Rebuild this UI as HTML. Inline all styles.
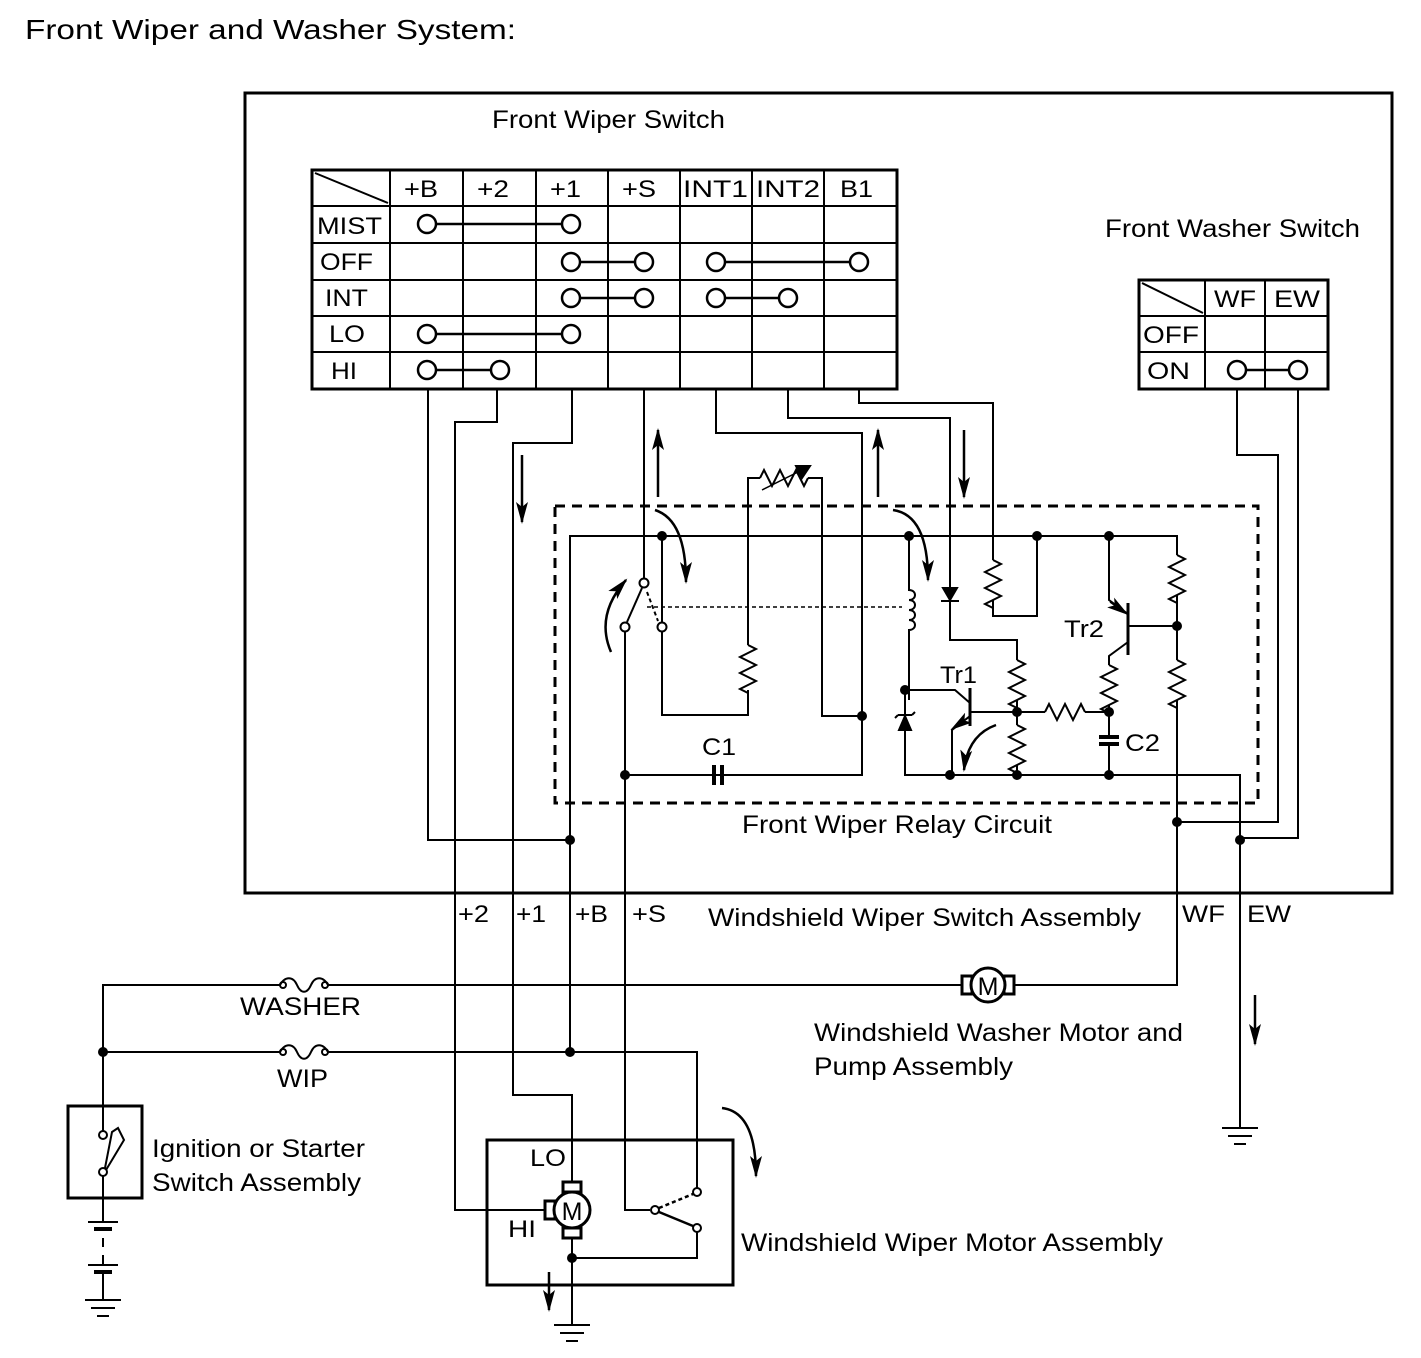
<!DOCTYPE html>
<html><head><meta charset="utf-8"><style>
html,body{margin:0;padding:0;background:#fff}
svg{display:block}
text{font-family:"Liberation Sans",Arial,sans-serif;fill:#000}
</style></head><body>
<svg width="1421" height="1358" viewBox="0 0 1421 1358" xmlns="http://www.w3.org/2000/svg">
<defs>
<marker id="ah" markerWidth="22" markerHeight="12" refX="20" refY="6" orient="auto" markerUnits="userSpaceOnUse">
<path d="M0,0 L22,6 L0,12 L5,6 Z" fill="#000"/></marker>
</defs>
<g fill="none" stroke="#000" stroke-width="2">
<rect x="245" y="93" width="1147" height="800" stroke-width="3"/>
<g stroke="none">
<text x="25" y="39" font-size="28" textLength="491" lengthAdjust="spacingAndGlyphs">Front Wiper and Washer System:</text>
<text x="492" y="128" font-size="25" textLength="233" lengthAdjust="spacingAndGlyphs">Front Wiper Switch</text>
<text x="1105" y="237" font-size="25" textLength="255" lengthAdjust="spacingAndGlyphs">Front Washer Switch</text>
</g>

<!-- switch table -->
<rect x="312" y="170" width="585" height="219" stroke-width="3"/>
<path d="M390 170V389M463 170V389M536 170V389M608 170V389M680 170V389M752 170V389M824 170V389"/>
<path d="M312 206H897M312 243H897M312 280H897M312 316H897M312 352H897"/>
<path d="M315 173L388 203"/>
<g font-size="24" stroke="none">
<text x="404" y="197" textLength="34" lengthAdjust="spacingAndGlyphs">+B</text><text x="477" y="197" textLength="32" lengthAdjust="spacingAndGlyphs">+2</text><text x="550" y="197" textLength="31" lengthAdjust="spacingAndGlyphs">+1</text><text x="622" y="197" textLength="34" lengthAdjust="spacingAndGlyphs">+S</text>
<text x="683" y="197" textLength="65" lengthAdjust="spacingAndGlyphs">INT1</text><text x="756" y="197" textLength="64" lengthAdjust="spacingAndGlyphs">INT2</text><text x="840" y="197" textLength="33" lengthAdjust="spacingAndGlyphs">B1</text>
<text x="317" y="234" textLength="65" lengthAdjust="spacingAndGlyphs">MIST</text><text x="320" y="270" textLength="53" lengthAdjust="spacingAndGlyphs">OFF</text><text x="325" y="306" textLength="43" lengthAdjust="spacingAndGlyphs">INT</text><text x="329" y="342" textLength="36" lengthAdjust="spacingAndGlyphs">LO</text><text x="331" y="379" textLength="26" lengthAdjust="spacingAndGlyphs">HI</text>
</g>
<path d="M436 224H562M580 262H635M725 262H850M580 298H635M725 298H779M436 334H562M436 370H491" stroke-width="2.5"/>
<g stroke-width="2.5">
<circle cx="427" cy="224" r="9"/><circle cx="571" cy="224" r="9"/>
<circle cx="571" cy="262" r="9"/><circle cx="644" cy="262" r="9"/><circle cx="716" cy="262" r="9"/><circle cx="859" cy="262" r="9"/>
<circle cx="571" cy="298" r="9"/><circle cx="644" cy="298" r="9"/><circle cx="716" cy="298" r="9"/><circle cx="788" cy="298" r="9"/>
<circle cx="427" cy="334" r="9"/><circle cx="571" cy="334" r="9"/>
<circle cx="427" cy="370" r="9"/><circle cx="500" cy="370" r="9"/>
</g>

<!-- washer table -->
<rect x="1139" y="280" width="189" height="109" stroke-width="3"/>
<path d="M1205 280V389M1265 280V389M1139 316H1328M1139 352H1328M1142 283L1203 313"/>
<g font-size="24" stroke="none"><text x="1214" y="307" textLength="42" lengthAdjust="spacingAndGlyphs">WF</text><text x="1274" y="307" textLength="46" lengthAdjust="spacingAndGlyphs">EW</text><text x="1143" y="343" textLength="56" lengthAdjust="spacingAndGlyphs">OFF</text><text x="1147" y="379" textLength="43" lengthAdjust="spacingAndGlyphs">ON</text></g>
<path d="M1246 370H1289" stroke-width="2.5"/>
<circle cx="1237" cy="370" r="9" stroke-width="2.5"/><circle cx="1298" cy="370" r="9" stroke-width="2.5"/>

<!-- dashed relay box -->
<rect x="555" y="506" width="703" height="297" stroke-width="3" stroke-dasharray="10,7"/>
<text x="742" y="833" font-size="25" stroke="none" textLength="310" lengthAdjust="spacingAndGlyphs">Front Wiper Relay Circuit</text>

<!-- wires from table -->
<path d="M428 389V840H570"/>
<path d="M497 389V422H455V1210H545"/>
<path d="M572 389V443H513V1095H572V1182"/>
<path d="M644 389V578"/>
<path d="M716 389V433H862V775H625"/>
<path d="M788 389V418H950V640H1017V660"/>
<path d="M859 389V403H993V560"/>
<path d="M993 600V616H1037V536"/>

<!-- relay rail -->
<path d="M570 1052V536H1177V555"/>
<path d="M1177 595V660M1177 700V985H1017"/>
<!-- switch -->
<path d="M625 632V1210H650"/>
<circle cx="644" cy="583" r="4.5"/><circle cx="625" cy="627" r="4.5" /><circle cx="662" cy="627" r="4.5"/>
<path d="M627 622L642 588"/>
<path d="M647 592L658 621" stroke-dasharray="4,3"/>
<path d="M647 607H902" stroke-dasharray="4,3" stroke-width="1.5"/>
<path d="M662 536V622M662 632V715H748V690"/>
<path d="M748 645V478H760M808 478H822V716H862"/>
<!-- variable resistor -->
<path d="M760 478l4 -8l8 16l8 -16l8 16l8 -16l8 16l4 -8"/>
<path d="M762 490L810 466" stroke-width="1.5"/>
<path d="M810 466L796 466L802 478Z" fill="#000"/>
<!-- C1 -->
<path d="M714 765V785M722 765V785" stroke-width="4"/>
<text x="702" y="755" font-size="24" stroke="none" textLength="34" lengthAdjust="spacingAndGlyphs">C1</text>
<!-- coil -->
<path d="M909 536V590 c8 0 8 10 0 10 c8 0 8 10 0 10 c8 0 8 10 0 10 c8 0 8 10 0 10V700"/>
<!-- zener -->
<path d="M905 730V775H1240V985"/>
<path d="M899 730L911 730L905 716Z" fill="#000"/>
<path d="M898 715H912M898 715l-3 3M912 715l3 -3"/>
<path d="M905 690V716"/>
<!-- diode -->
<path d="M943 588H957L950 600Z" fill="#000"/><path d="M941 601H959"/>
<!-- tr1 -->
<path d="M905 690H955L970 703"/>
<path d="M970 688V726" stroke-width="3"/>
<path d="M970 712H1017"/>
<path d="M970 716L952 730V775"/>
<path d="M968 718L952 729" marker-end="url(#ah)" stroke-width="1.5"/>
<text x="940" y="683" font-size="24" stroke="none" textLength="37" lengthAdjust="spacingAndGlyphs">Tr1</text>
<path d="M1017 700V725M1017 765V775M1017 712H1045M1085 712H1109"/>
<!-- tr2 -->
<path d="M1109 536V600L1128 614"/>
<path d="M1128 603V655" stroke-width="3"/>
<path d="M1128 626H1177"/>
<path d="M1128 642L1109 656V665M1109 705V735M1109 745V775"/>
<path d="M1110 602L1127 614" marker-end="url(#ah)" stroke-width="1.5"/>
<text x="1064" y="637" font-size="24" stroke="none" textLength="40" lengthAdjust="spacingAndGlyphs">Tr2</text>
<path d="M1099 737H1119M1099 744H1119" stroke-width="4"/>
<text x="1125" y="751" font-size="24" stroke="none" textLength="35" lengthAdjust="spacingAndGlyphs">C2</text>
<!-- resistors -->
<path d="M748 645l8 4l-16 8l16 8l-16 8l16 8l-16 8l8 4"/>
<path d="M993 560l8 4l-16 8l16 8l-16 8l16 8l-16 8l8 4"/>
<path d="M1017 660l8 4l-16 8l16 8l-16 8l16 8l-16 8l8 4"/>
<path d="M1017 725l8 4l-16 8l16 8l-16 8l16 8l-16 8l8 4"/>
<path d="M1109 665l8 4l-16 8l16 8l-16 8l16 8l-16 8l8 4"/>
<path d="M1177 555l8 4l-16 8l16 8l-16 8l16 8l-16 8l8 4"/>
<path d="M1177 660l8 4l-16 8l16 8l-16 8l16 8l-16 8l8 4"/>
<path d="M1045 712l4 -8l8 16l8 -16l8 16l8 -16l4 8"/>

<!-- washer switch wires -->
<path d="M1237 389V455H1278V822H1177"/>
<path d="M1298 389V838H1240"/>
<path d="M1240 985V1128"/>

<!-- dots -->
<g fill="#000" stroke="none">
<circle cx="570" cy="840" r="5"/><circle cx="662" cy="536" r="5"/><circle cx="909" cy="536" r="5"/><circle cx="1037" cy="536" r="5"/><circle cx="1109" cy="536" r="5"/>
<circle cx="862" cy="716" r="5"/><circle cx="625" cy="775" r="5"/><circle cx="905" cy="690" r="5"/><circle cx="950" cy="775" r="5"/>
<circle cx="1017" cy="712" r="5"/><circle cx="1017" cy="775" r="5"/><circle cx="1109" cy="712" r="5"/><circle cx="1109" cy="775" r="5"/>
<circle cx="1177" cy="626" r="5"/><circle cx="1177" cy="822" r="5"/><circle cx="1240" cy="840" r="5"/>
<circle cx="103" cy="1052" r="5"/><circle cx="570" cy="1052" r="5"/><circle cx="572" cy="1258" r="5"/>
</g>

<!-- arrows -->
<g stroke-width="2.5">
<path d="M658 497V430" marker-end="url(#ah)"/>
<path d="M878 497V430" marker-end="url(#ah)"/>
<path d="M964 430V497" marker-end="url(#ah)"/>
<path d="M522 455V522" marker-end="url(#ah)"/>
<path d="M655 510Q686 520 686 582" marker-end="url(#ah)"/>
<path d="M893 510Q928 515 928 580" marker-end="url(#ah)"/>
<path d="M611 652Q595 615 626 580" marker-end="url(#ah)"/>
<path d="M996 725Q968 735 964 770" marker-end="url(#ah)"/>
<path d="M722 1108Q756 1112 756 1176" marker-end="url(#ah)"/>
<path d="M549 1272V1310" marker-end="url(#ah)"/>
<path d="M1255 995V1044" marker-end="url(#ah)"/>
</g>

<!-- connector labels -->
<g font-size="24" stroke="none">
<text x="458" y="922" textLength="31" lengthAdjust="spacingAndGlyphs">+2</text><text x="516" y="922" textLength="30" lengthAdjust="spacingAndGlyphs">+1</text><text x="575" y="922" textLength="33" lengthAdjust="spacingAndGlyphs">+B</text><text x="632" y="922" textLength="34" lengthAdjust="spacingAndGlyphs">+S</text>
<text x="708" y="926" font-size="25" textLength="433" lengthAdjust="spacingAndGlyphs">Windshield Wiper Switch Assembly</text>
<text x="1182" y="922" textLength="43" lengthAdjust="spacingAndGlyphs">WF</text><text x="1247" y="922" textLength="44" lengthAdjust="spacingAndGlyphs">EW</text>
</g>

<!-- washer line -->
<path d="M103 1110V985H280M328 985H962M1014 985H1177"/>
<path d="M280 985C285 976 293 976 297 985C301 994 307 994 311 985C315 976 323 976 328 985"/>
<circle cx="283" cy="985" r="3"/><circle cx="325" cy="985" r="3"/>
<text x="240" y="1015" font-size="25" stroke="none" textLength="121" lengthAdjust="spacingAndGlyphs">WASHER</text>
<rect x="962" y="976" width="10" height="18" stroke-width="3"/><rect x="1004" y="976" width="10" height="18" stroke-width="3"/>
<circle cx="988" cy="985" r="17" fill="#fff" stroke-width="3"/>
<text x="988" y="995" font-size="25" text-anchor="middle" stroke="none">M</text>
<text x="814" y="1041" font-size="25" stroke="none" textLength="369" lengthAdjust="spacingAndGlyphs">Windshield Washer Motor and</text>
<text x="814" y="1075" font-size="25" stroke="none" textLength="199" lengthAdjust="spacingAndGlyphs">Pump Assembly</text>

<!-- WIP line -->
<path d="M103 1052H280M328 1052H697V1188"/>
<path d="M280 1052C285 1043 293 1043 297 1052C301 1061 307 1061 311 1052C315 1043 323 1043 328 1052"/>
<circle cx="283" cy="1052" r="3"/><circle cx="325" cy="1052" r="3"/>
<text x="277" y="1087" font-size="25" stroke="none" textLength="51" lengthAdjust="spacingAndGlyphs">WIP</text>

<!-- ignition -->
<rect x="68" y="1106" width="74" height="92" stroke-width="3"/>
<path d="M103 1110V1131M103 1176V1222"/>
<circle cx="103" cy="1135" r="4"/><circle cx="103" cy="1172" r="4"/>
<path d="M105 1168L112 1132L118 1128L124 1140L106 1170"/>
<text x="152" y="1157" font-size="25" stroke="none" textLength="213" lengthAdjust="spacingAndGlyphs">Ignition or Starter</text>
<text x="152" y="1191" font-size="25" stroke="none" textLength="209" lengthAdjust="spacingAndGlyphs">Switch Assembly</text>
<path d="M88 1222H118"/><path d="M94 1229H112" stroke-width="4"/>
<path d="M103 1238V1247M103 1255V1265"/>
<path d="M88 1265H118"/><path d="M94 1272H112" stroke-width="4"/>
<path d="M103 1272V1300M85 1300H121M91 1308H115M97 1316H109"/>

<!-- wiper motor assembly -->
<rect x="487" y="1140" width="246" height="145" stroke-width="3"/>
<text x="530" y="1166" font-size="24" stroke="none" textLength="36" lengthAdjust="spacingAndGlyphs">LO</text>
<text x="508" y="1237" font-size="24" stroke="none" textLength="28" lengthAdjust="spacingAndGlyphs">HI</text>
<rect x="563" y="1182" width="18" height="10" stroke-width="3"/>
<rect x="563" y="1228" width="18" height="10" stroke-width="3"/>
<rect x="545" y="1201" width="10" height="18" stroke-width="3"/>
<circle cx="572" cy="1210" r="18" fill="#fff" stroke-width="3"/>
<text x="572" y="1220" font-size="25" text-anchor="middle" stroke="none">M</text>
<path d="M572 1238V1325"/>
<path d="M572 1258H697V1232"/>
<circle cx="655" cy="1210" r="4"/><circle cx="697" cy="1192" r="4"/><circle cx="697" cy="1228" r="4"/>
<path d="M659 1212L693 1226" stroke-width="2.5"/>
<path d="M659 1208L693 1194" stroke-dasharray="4,3" stroke-width="2.5"/>
<path d="M554 1325H590M560 1333H584M566 1341H578"/>
<text x="741" y="1251" font-size="25" stroke="none" textLength="422" lengthAdjust="spacingAndGlyphs">Windshield Wiper Motor Assembly</text>

<!-- EW ground -->
<path d="M1222 1128H1258M1228 1136H1252M1234 1144H1246"/>
</g>
</svg>
</body></html>
